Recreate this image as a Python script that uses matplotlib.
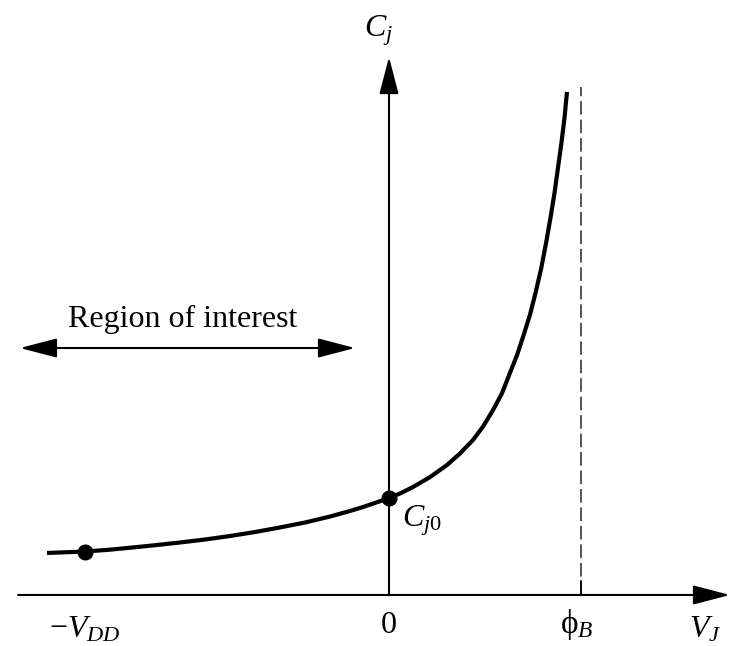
import matplotlib
matplotlib.use("Agg")
import matplotlib.pyplot as plt

plt.rcParams["font.family"] = ["Liberation Serif", "DejaVu Serif"]
plt.rcParams["mathtext.fontset"] = "custom"
plt.rcParams["mathtext.rm"] = "Liberation Serif"
plt.rcParams["mathtext.it"] = "Liberation Serif:italic"

# junction capacitance vs junction voltage (normalised: phi_B = 1, C_j0 = 1)
V_J = [-1.781, -1.583, -1.453, -1.349, -1.219, -1.089, -0.958, -0.828, -0.698,
       -0.568, -0.4375, -0.307, -0.203, -0.135, -0.068, 0.0,
       0.057, 0.125, 0.214, 0.302, 0.370, 0.4375, 0.490, 0.542, 0.589, 0.630,
       0.667, 0.698, 0.734, 0.763, 0.792, 0.818, 0.841, 0.862, 0.880, 0.898,
       0.914, 0.927]
C_J = [0.433, 0.448, 0.467, 0.487, 0.513, 0.541, 0.572, 0.608, 0.649,
       0.696, 0.747, 0.809, 0.866, 0.907, 0.952, 1.0,
       1.046, 1.113, 1.216, 1.340, 1.459, 1.598, 1.737, 1.907, 2.082, 2.289,
       2.474, 2.660, 2.887, 3.113, 3.361, 3.629, 3.887, 4.144, 4.402, 4.660,
       4.918, 5.186]

PHI_B = 1.0
V_DD = 1.583
MARKED = [V_J.index(-V_DD), V_J.index(0.0)]

fig = plt.figure(figsize=(7.37, 6.46), dpi=100)
ax = fig.add_axes([0, 0, 1, 1])
ax.set_xlim(-2.026, 1.8125)
ax.set_ylim(-0.526, 6.134)
ax.axis("off")

def arrow(x0, y0, x1, y1):
    ax.annotate("", xy=(x1, y1), xytext=(x0, y0),
                arrowprops=dict(arrowstyle="-|>,head_length=23,head_width=6",
                                mutation_scale=1, lw=1.5, color="black",
                                shrinkA=0, shrinkB=0))

# axes
arrow(-1.932, 0, 1.776, 0)
arrow(0, 0, 0, 5.546)

# built-in potential asymptote and its tick
ax.plot([PHI_B, PHI_B], [0, 5.237], color="#555555", lw=1.4, dashes=(7, 2.5))
ax.plot([PHI_B, PHI_B], [0, 0.14], color="black", lw=1.2)

# C_j(V_J)
ax.plot(V_J, C_J, color="black", lw=3.0, solid_capstyle="butt")
ax.plot([V_J[i] for i in MARKED], [C_J[i] for i in MARKED], "o",
        color="black", ms=10.5)

# region of interest (double-headed)
arrow(-1.05, 2.546, -1.922, 2.546)
arrow(-1.05, 2.546, -0.177, 2.546)
ax.text(-1.073, 2.76, "Region of interest", fontsize=23, ha="center", va="baseline")

# labels
fs = 23
ax.text(-0.057, 5.82, r"$C_j$", fontsize=fs, ha="center", va="center")
ax.text(0.068, 0.77, r"$C_{j0}$", fontsize=fs, ha="left", va="center")
ax.text(-1.583, -0.36, r"$-V_{DD}$", fontsize=fs, ha="center", va="center")
ax.text(0, -0.31, "0", fontsize=fs, ha="center", va="center")
ax.text(0.979, -0.30, r"$\mathrm{\phi}_B$", fontsize=fs + 1, ha="center", va="center")
ax.text(1.646, -0.36, r"$V_J$", fontsize=fs, ha="center", va="center")

fig.savefig("out.png", dpi=100)
